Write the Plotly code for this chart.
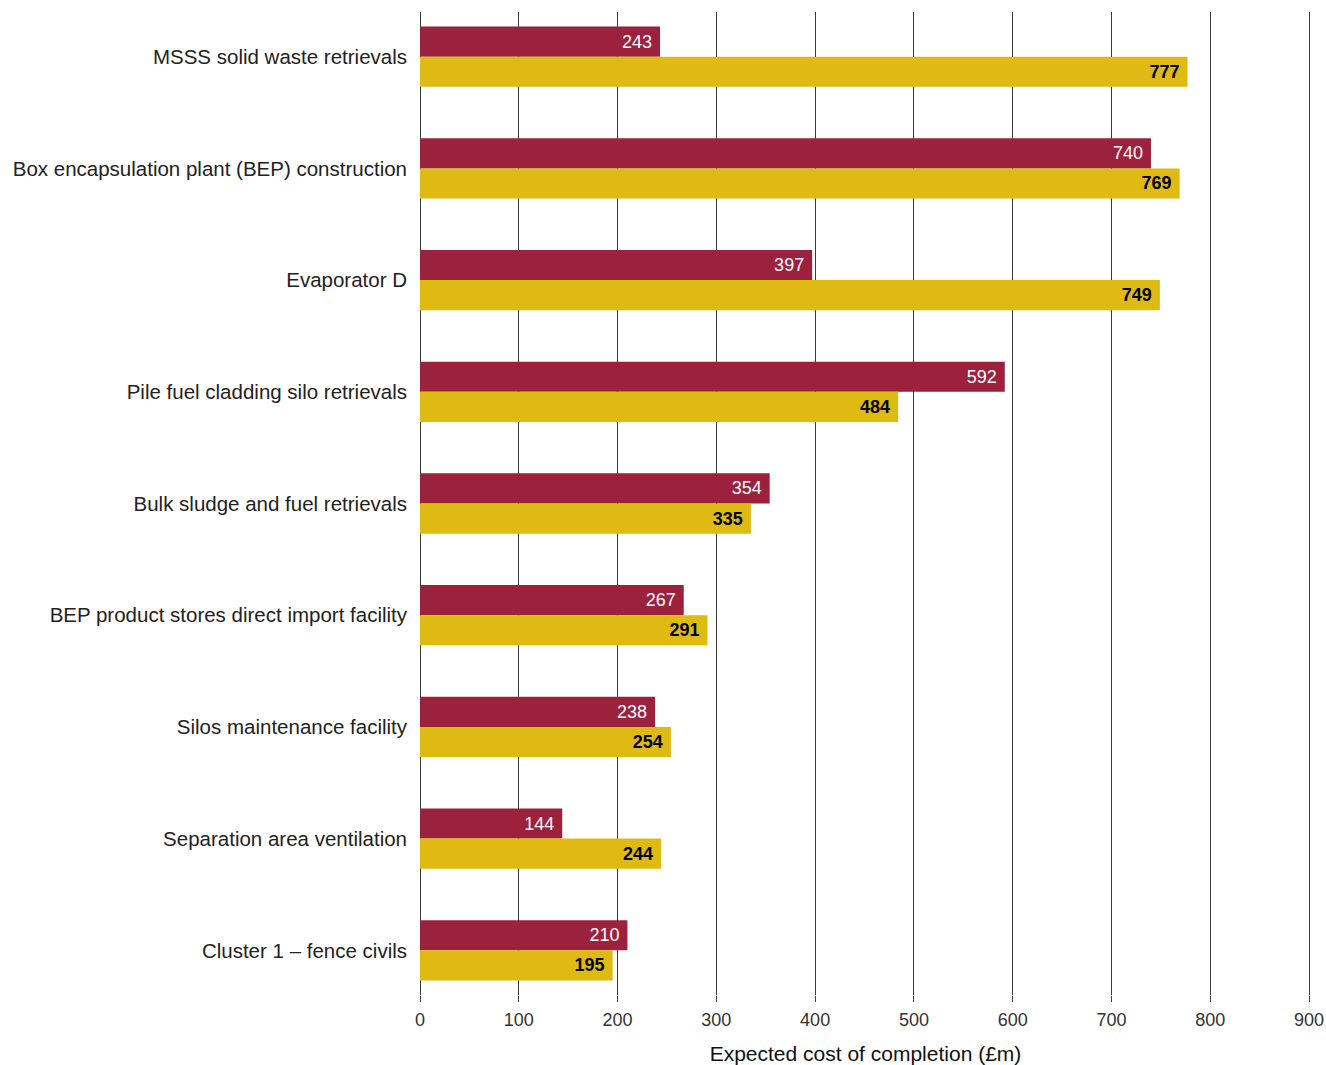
import plotly.graph_objects as go

categories = [
    "MSSS solid waste retrievals",
    "Box encapsulation plant (BEP) construction",
    "Evaporator D",
    "Pile fuel cladding silo retrievals",
    "Bulk sludge and fuel retrievals",
    "BEP product stores direct import facility",
    "Silos maintenance facility",
    "Separation area ventilation",
    "Cluster 1 – fence civils",
]
series_a = [243, 740, 397, 592, 354, 267, 238, 144, 210]
series_b = [777, 769, 749, 484, 335, 291, 254, 244, 195]
x_ticks = [0, 100, 200, 300, 400, 500, 600, 700, 800, 900]

RED = "#9C213D"
YELLOW = "#DFBA13"
FONT = "Liberation Sans, Arial, sans-serif"

fig = go.Figure()
fig.add_trace(go.Bar(
    y=categories, x=series_a, orientation="h", name="Estimate A",
    marker=dict(color=RED, line=dict(width=0)),
    text=["%d\u00a0" % v for v in series_a], textposition="inside", insidetextanchor="end",
    textfont=dict(color="white", size=18, family=FONT), cliponaxis=False,
))
fig.add_trace(go.Bar(
    y=categories, x=series_b, orientation="h", name="Estimate B",
    marker=dict(color=YELLOW, line=dict(width=0)),
    text=["<b>%d</b>\u00a0" % v for v in series_b], textposition="inside", insidetextanchor="end",
    textfont=dict(color="black", size=18, family=FONT), cliponaxis=False,
))

fig.update_layout(
    width=1326, height=1065,
    margin=dict(l=420, r=15, t=12, b=70),
    barmode="group", bargap=0.46, bargroupgap=0,
    plot_bgcolor="white", paper_bgcolor="white",
    showlegend=False,
    font=dict(family=FONT, color="#222222"),
    uniformtext=dict(minsize=18, mode="show"),
    xaxis=dict(
        range=[0, 902], tickvals=x_ticks, ticktext=[str(t) for t in x_ticks],
        showgrid=True, gridcolor="#3a3a3a", gridwidth=1.2,
        zeroline=True, zerolinecolor="#3a3a3a", zerolinewidth=1.2,
        ticks="outside", ticklen=6, tickcolor="#444444",
        tickfont=dict(size=18, color="#333333"), ticklabelstandoff=2,
        title=dict(text="Expected cost of completion (£m)", font=dict(size=21, color="#111111"), standoff=24),
        showline=False, automargin=False,
    ),
    yaxis=dict(
        categoryorder="array", categoryarray=categories,
        range=[8.4, -0.4],
        tickfont=dict(size=20.5, color="#222222"),
        ticks="", ticklabelstandoff=12,
        showgrid=False, showline=False, automargin=False,
    ),
)

fig.write_html("out.html")
